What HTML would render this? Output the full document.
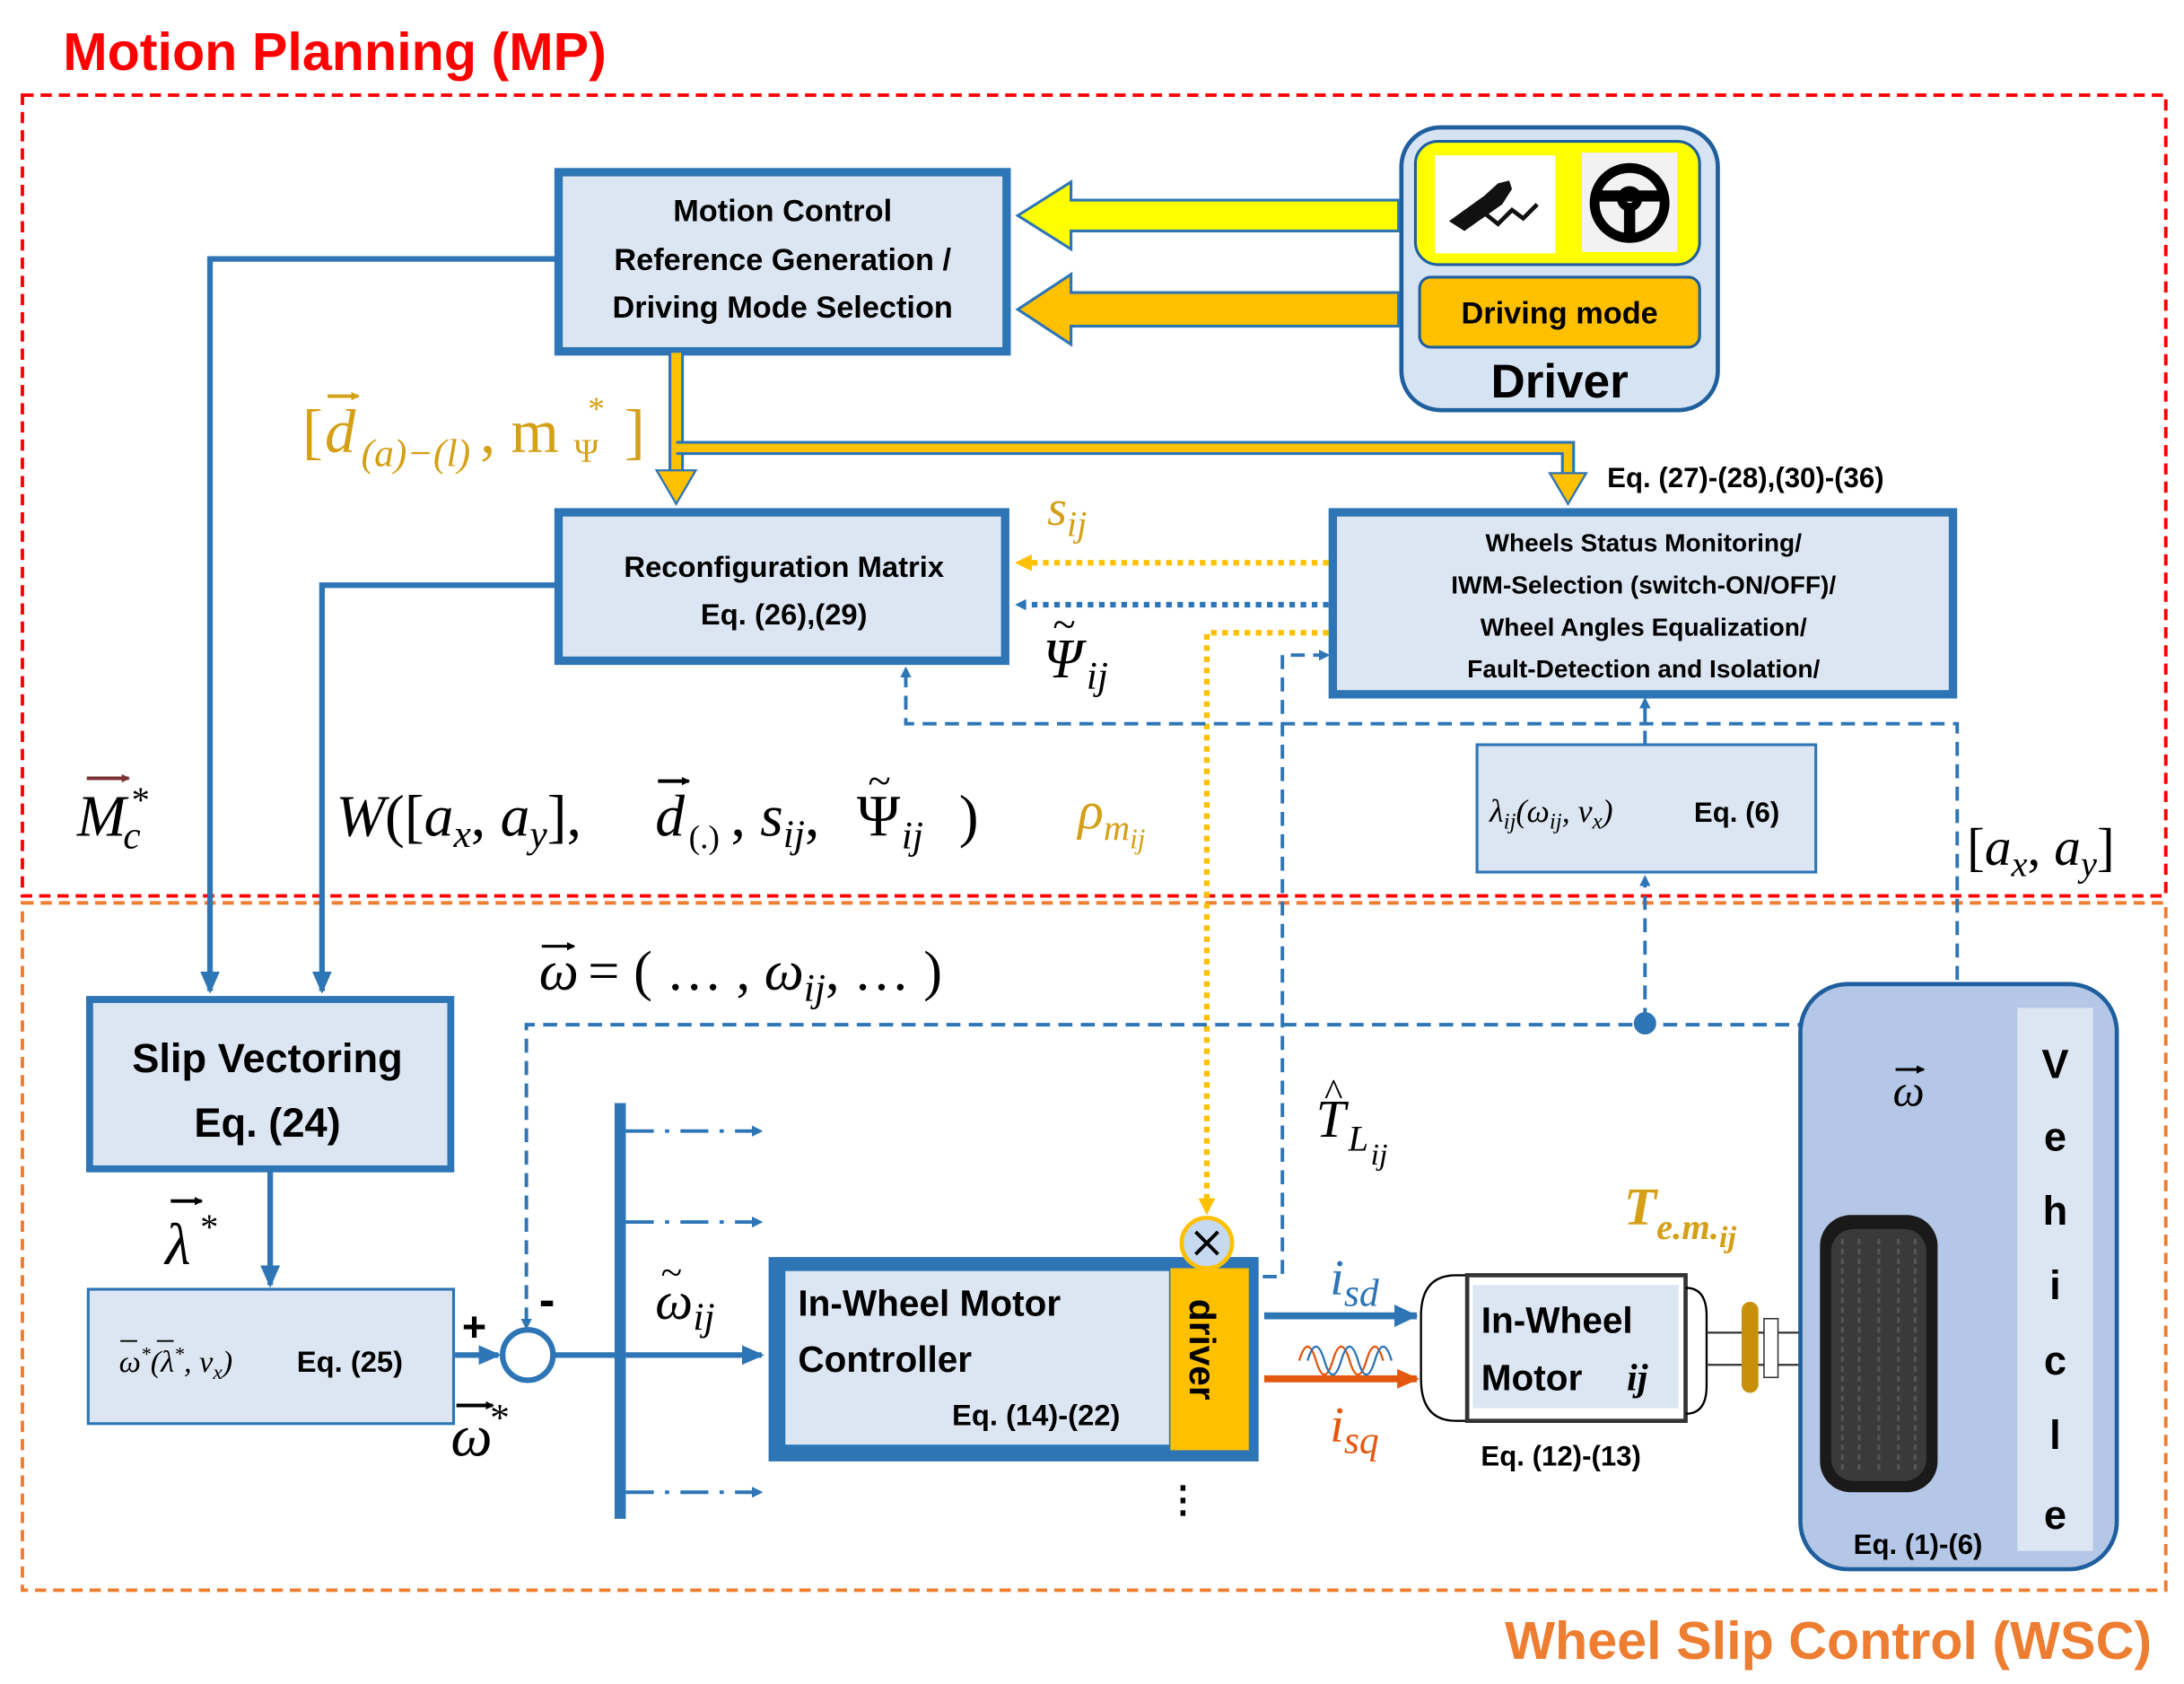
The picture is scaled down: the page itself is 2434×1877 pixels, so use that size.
<!DOCTYPE html>
<html><head><meta charset="utf-8"><style>
html,body{margin:0;padding:0;background:#fff;}
svg{display:block;}
.b{font-family:"Liberation Sans",sans-serif;font-weight:bold;}
.m{font-family:"Liberation Serif",serif;font-style:italic;}
.r{font-family:"Liberation Serif",serif;}
</style></head><body>
<svg width="2434" height="1877" viewBox="0 0 1560 1203" xmlns="http://www.w3.org/2000/svg">
<defs>
<marker id="ab" markerWidth="8" markerHeight="8" refX="6" refY="4" orient="auto" markerUnits="userSpaceOnUse"><path d="M0,0 L8,4 L0,8 z" fill="#2e75b6"/></marker>
<marker id="abl" markerWidth="16" markerHeight="14" refX="14" refY="7" orient="auto" markerUnits="userSpaceOnUse"><path d="M0,0 L16,7 L0,14 z" fill="#2e75b6"/></marker>
<marker id="ay" markerWidth="12" markerHeight="12" refX="10" refY="6" orient="auto" markerUnits="userSpaceOnUse"><path d="M0,0 L12,6 L0,12 z" fill="#ffc000"/></marker>
<marker id="aor" markerWidth="16" markerHeight="14" refX="14" refY="7" orient="auto" markerUnits="userSpaceOnUse"><path d="M0,0 L16,7 L0,14 z" fill="#e3570f"/></marker>
<marker id="va" markerWidth="6" markerHeight="6" refX="5" refY="3" orient="auto" markerUnits="userSpaceOnUse"><path d="M0,0 L6,3 L0,6 z" fill="context-stroke"/></marker>
</defs>

<text x="45" y="50" class="b" font-size="38" fill="#ff0000">Motion Planning (MP)</text>
<rect x="16" y="68" width="1531" height="572" fill="none" stroke="#ff0000" stroke-width="2.5" stroke-dasharray="8,5"/>
<rect x="16" y="645" width="1531" height="491" fill="none" stroke="#ed7d31" stroke-width="2.5" stroke-dasharray="8,5"/>
<text x="1537" y="1185" class="b" font-size="38" fill="#ed7d31" text-anchor="end">Wheel Slip Control (WSC)</text>

<!-- Motion control box -->
<rect x="399" y="123" width="320" height="128" fill="#dce6f2" stroke="#2e75b6" stroke-width="6"/>
<g class="b" font-size="22" text-anchor="middle" fill="#000">
<text x="559" y="158">Motion Control</text>
<text x="559" y="193">Reference Generation /</text>
<text x="559" y="227">Driving Mode Selection</text>
</g>

<!-- Driver -->
<rect x="1001" y="91" width="226" height="202" rx="28" fill="#d6e3f3" stroke="#1f5f9e" stroke-width="3"/>
<rect x="1011" y="101" width="203" height="88" rx="16" fill="#ffff00" stroke="#1f5f9e" stroke-width="2"/>
<rect x="1025" y="111" width="86" height="70" fill="#fff"/>
<rect x="1130" y="109" width="68" height="71" fill="#f2f2f2"/>
<path d="M1035,158 L1060,140 L1070,131 L1078,129 L1080,135 L1073,146 L1046,165 Z" fill="#111"/>
<path d="M1060,152 L1070,160 L1080,150 L1088,156 L1098,146" fill="none" stroke="#111" stroke-width="3"/>
<circle cx="1164" cy="145" r="25" fill="none" stroke="#000" stroke-width="7"/>
<circle cx="1164" cy="142" r="6" fill="none" stroke="#000" stroke-width="6"/>
<path d="M1141,140 L1187,140 M1164,148 L1164,168" stroke="#000" stroke-width="8"/>
<rect x="1014" y="198" width="200" height="50" rx="8" fill="#ffc000" stroke="#1f5f9e" stroke-width="2"/>
<text x="1114" y="231" class="b" font-size="22" text-anchor="middle">Driving mode</text>
<text x="1114" y="284" class="b" font-size="34" text-anchor="middle">Driver</text>

<!-- big arrows -->
<path d="M999,143 L765,143 L765,130 L727,154 L765,178 L765,165 L999,165 Z" fill="#ffff00" stroke="#2e75b6" stroke-width="2"/>
<path d="M999,209 L765,209 L765,196 L727,221 L765,246 L765,233 L999,233 Z" fill="#ffc000" stroke="#2e75b6" stroke-width="2"/>

<!-- orange thick connectors -->
<path d="M483,252 L483,338" stroke="#2e75b6" stroke-width="11" fill="none"/>
<path d="M483,252 L483,338" stroke="#ffc000" stroke-width="7" fill="none"/>
<path d="M483,320 L1120,320 L1120,340" stroke="#2e75b6" stroke-width="10" fill="none"/>
<path d="M483,320 L1120,320 L1120,340" stroke="#ffc000" stroke-width="6" fill="none"/>
<path d="M469,336 L497,336 L483,360 Z" fill="#ffc000" stroke="#2e75b6" stroke-width="1.5"/>
<path d="M1107,338 L1133,338 L1120,360 Z" fill="#ffc000" stroke="#2e75b6" stroke-width="1.5"/>
<g fill="#d4a017">
<text x="216" y="323" class="r" font-size="44">[</text>
<text x="232" y="323" class="m" font-size="44">d</text>
<path d="M234,283 L256,283" stroke="#d4a017" stroke-width="2.5" marker-end="url(#va)"/>
<text x="258" y="333" class="m" font-size="28">(a)−(l)</text>
<text x="343" y="323" class="r" font-size="44">, m</text>
<text x="410" y="330" class="r" font-size="24">Ψ</text>
<text x="420" y="300" class="r" font-size="24">*</text>
<text x="446" y="323" class="r" font-size="44">]</text>
</g>

<!-- Reconfiguration -->
<rect x="399" y="366" width="319" height="106" fill="#dce6f2" stroke="#2e75b6" stroke-width="6"/>
<text x="560" y="412" class="b" font-size="21" text-anchor="middle">Reconfiguration Matrix</text>
<text x="560" y="446" class="b" font-size="21" text-anchor="middle">Eq. (26),(29)</text>

<!-- Wheels status -->
<rect x="952" y="366" width="443" height="130" fill="#dce6f2" stroke="#2e75b6" stroke-width="6"/>
<g class="b" font-size="18" text-anchor="middle">
<text x="1174" y="394">Wheels Status Monitoring/</text>
<text x="1174" y="424">IWM-Selection (switch-ON/OFF)/</text>
<text x="1174" y="454">Wheel Angles Equalization/</text>
<text x="1174" y="484">Fault-Detection and Isolation/</text>
</g>
<text x="1148" y="348" class="b" font-size="20">Eq. (27)-(28),(30)-(36)</text>

<!-- dotted arrows -->
<path d="M949,402 L727,402" stroke="#ffc000" stroke-width="4" stroke-dasharray="4,4" fill="none" marker-end="url(#ay)"/>
<path d="M949,432 L727,432" stroke="#2e75b6" stroke-width="4" stroke-dasharray="4,4" fill="none" marker-end="url(#ab)"/>
<path d="M949,452 L862,452 L862,866" stroke="#ffc000" stroke-width="4" stroke-dasharray="4,4" fill="none" marker-end="url(#ay)"/>
<text x="748" y="375" class="m" font-size="36" fill="#d4a017">s<tspan font-size="26" dy="8">ij</tspan></text>
<text x="745" y="484" class="m" font-size="40" fill="#000">Ψ</text>
<text x="752" y="456" class="r" font-size="30">~</text>
<text x="776" y="492" class="m" font-size="28">ij</text>
<text x="770" y="592" class="m" font-size="38" fill="#d4a017">ρ<tspan font-size="26" dy="8">m</tspan><tspan font-size="20" dy="6">ij</tspan></text>

<!-- dashed blue lines -->
<g stroke="#2e75b6" stroke-width="2.5" stroke-dasharray="10,6" fill="none">
<path d="M1398,700 L1398,517 L647,517 L647,478" marker-end="url(#ab)"/>
<path d="M1175,532 L1175,500" marker-end="url(#ab)"/>
<path d="M1175,730 L1175,627" marker-end="url(#ab)"/>
<path d="M1340,830 L1340,732 L376,732 L376,948" marker-end="url(#ab)"/>
<path d="M902,912 L916,912 L916,468 L948,468" marker-end="url(#ab)"/>
</g>
<circle cx="1175" cy="731" r="8" fill="#2e75b6"/>

<!-- lambda box -->
<rect x="1055" y="532" width="242" height="91" fill="#dce6f2" stroke="#2e75b6" stroke-width="2"/>
<text x="1064" y="587" class="m" font-size="23">λ<tspan font-size="16" dy="5">ij</tspan><tspan dy="-5">(ω</tspan><tspan font-size="16" dy="5">ij</tspan><tspan dy="-5">, v</tspan><tspan font-size="16" dy="5">x</tspan><tspan dy="-5">)</tspan></text>
<text x="1210" y="587" class="b" font-size="20">Eq. (6)</text>
<text x="1405" y="618" class="r" font-size="38">[<tspan font-style="italic">a</tspan><tspan font-size="26" font-style="italic" dy="8">x</tspan><tspan dy="-8">, </tspan><tspan font-style="italic">a</tspan><tspan font-size="26" font-style="italic" dy="8">y</tspan><tspan dy="-8">]</tspan></text>

<!-- solid blue to slip vectoring -->
<path d="M399,185 L150,185 L150,708" stroke="#2e75b6" stroke-width="4" fill="none" marker-end="url(#abl)"/>
<path d="M399,418 L230,418 L230,708" stroke="#2e75b6" stroke-width="4" fill="none" marker-end="url(#abl)"/>
<text x="55" y="597" class="m" font-size="42">M</text>
<path d="M62,556 L92,556" stroke="#7a3030" stroke-width="2.5" marker-end="url(#va)"/>
<text x="88" y="606" class="m" font-size="28">c</text>
<text x="94" y="580" class="r" font-size="26">*</text>

<g>
<text x="240" y="597" class="r" font-size="42"><tspan font-style="italic">W</tspan>([<tspan font-style="italic">a</tspan><tspan font-size="28" font-style="italic" dy="8">x</tspan><tspan dy="-8">, </tspan><tspan font-style="italic">a</tspan><tspan font-size="28" font-style="italic" dy="8">y</tspan><tspan dy="-8">],</tspan></text>
<text x="468" y="597" class="m" font-size="42">d</text>
<path d="M470,558 L492,558" stroke="#000" stroke-width="2.5" marker-end="url(#va)"/>
<text x="492" y="606" class="r" font-size="24">(.)</text>
<text x="522" y="597" class="r" font-size="42">, <tspan font-style="italic">s</tspan><tspan font-size="28" font-style="italic" dy="8">ij</tspan><tspan dy="-8">,</tspan></text>
<text x="612" y="597" class="r" font-size="42">Ψ</text>
<text x="620" y="568" class="r" font-size="30">~</text>
<text x="644" y="606" class="m" font-size="28">ij</text>
<text x="685" y="597" class="r" font-size="42">)</text>
</g>

<text x="385" y="707" class="m" font-size="40">ω</text>
<path d="M387,676 L410,676" stroke="#000" stroke-width="2" marker-end="url(#va)"/>
<text x="420" y="707" class="r" font-size="40">= ( … , <tspan font-style="italic">ω</tspan><tspan font-size="28" font-style="italic" dy="8">ij</tspan><tspan dy="-8">, … )</tspan></text>

<!-- Slip vectoring -->
<rect x="64" y="714" width="258" height="121" fill="#dce6f2" stroke="#2e75b6" stroke-width="5"/>
<text x="191" y="766" class="b" font-size="29" text-anchor="middle">Slip Vectoring</text>
<text x="191" y="812" class="b" font-size="29" text-anchor="middle">Eq. (24)</text>
<path d="M193,836 L193,918" stroke="#2e75b6" stroke-width="4" fill="none" marker-end="url(#abl)"/>
<text x="118" y="903" class="m" font-size="42">λ</text>
<path d="M122,858 L144,858" stroke="#000" stroke-width="2.5" marker-end="url(#va)"/>
<text x="143" y="885" class="r" font-size="26">*</text>

<rect x="63" y="921" width="261" height="96" fill="#dce6f2" stroke="#2e75b6" stroke-width="2"/>
<text x="85" y="980" class="m" font-size="22">ω<tspan font-size="14" dy="-8">*</tspan><tspan dy="8">(λ</tspan><tspan font-size="14" dy="-8">*</tspan><tspan dy="8">, v</tspan><tspan font-size="15" dy="5">x</tspan><tspan dy="-5">)</tspan></text>
<path d="M86,958 L98,958 M112,958 L124,958" stroke="#000" stroke-width="1.2"/>
<text x="212" y="980" class="b" font-size="21">Eq. (25)</text>

<!-- sum -->
<path d="M325,968 L356,968" stroke="#2e75b6" stroke-width="4" marker-end="url(#abl)"/>
<circle cx="377" cy="968" r="18" fill="#fff" stroke="#2e75b6" stroke-width="4"/>
<text x="330" y="958" class="b" font-size="30">+</text>
<text x="385" y="940" class="b" font-size="34">-</text>
<text x="322" y="1040" class="m" font-size="42">ω</text>
<path d="M326,1004 L352,1004" stroke="#000" stroke-width="2.5" marker-end="url(#va)"/>
<text x="350" y="1022" class="r" font-size="28">*</text>
<path d="M395,968 L440,968" stroke="#2e75b6" stroke-width="4"/>
<rect x="439" y="788" width="8" height="297" fill="#2e75b6"/>
<g stroke="#2e75b6" stroke-width="2.5" fill="none" stroke-dasharray="20,8,3,8">
<path d="M447,808 L543,808" marker-end="url(#ab)"/>
<path d="M447,873 L543,873" marker-end="url(#ab)"/>
<path d="M447,1066 L543,1066" marker-end="url(#ab)"/>
</g>
<path d="M447,968 L544,968" stroke="#2e75b6" stroke-width="4" marker-end="url(#abl)"/>
<text x="468" y="942" class="m" font-size="38">ω</text>
<text x="472" y="918" class="r" font-size="28">~</text>
<text x="495" y="950" class="m" font-size="28">ij</text>

<!-- IWM controller -->
<rect x="549" y="898" width="350" height="146" fill="#2e75b6"/>
<rect x="561" y="908" width="274" height="124" fill="#dce6f2"/>
<rect x="836" y="906" width="56" height="130" fill="#ffc000"/>
<text x="570" y="940" class="b" font-size="26">In-Wheel Motor</text>
<text x="570" y="980" class="b" font-size="26">Controller</text>
<text x="680" y="1018" class="b" font-size="21">Eq. (14)-(22)</text>
<text transform="translate(850,928) rotate(90)" class="b" font-size="26">driver</text>
<circle cx="862" cy="888" r="18" fill="#c5d9f1" stroke="#ffc000" stroke-width="3"/>
<path d="M854,880 L870,896 M870,880 L854,896" stroke="#000" stroke-width="2.5"/>
<text x="832" y="1080" class="b" font-size="26">⋮</text>

<!-- currents -->
<path d="M903,940 L1012,940" stroke="#2e75b6" stroke-width="5"/>
<path d="M996,932 L1013,940 L996,948 Z" fill="#2e75b6"/>
<path d="M903,985 L1012,985" stroke="#e3570f" stroke-width="5" marker-end="url(#aor)"/>
<text x="950" y="925" class="m" font-size="36" fill="#2e75b6">i<tspan font-size="28" dy="8">sd</tspan></text>
<text x="950" y="1030" class="m" font-size="36" fill="#e3570f">i<tspan font-size="28" dy="8">sq</tspan></text>
<path d="M928,972 q6,-20 12,0 q6,20 12,0 q6,-20 12,0 q6,20 12,0 q6,-20 12,0" fill="none" stroke="#e3570f" stroke-width="1.5"/>
<path d="M934,972 q6,-20 12,0 q6,20 12,0 q6,-20 12,0 q6,20 12,0 q6,-20 12,0" fill="none" stroke="#2e75b6" stroke-width="1.5"/>

<!-- motor -->
<path d="M1048,911 L1040,911 Q1015,911 1015,940 L1015,985 Q1015,1015 1040,1015 L1048,1015" fill="none" stroke="#000" stroke-width="1.5"/>
<rect x="1048" y="911" width="156" height="104" fill="#fff" stroke="#333" stroke-width="3"/>
<rect x="1052" y="918" width="147" height="88" fill="#dce6f2"/>
<path d="M1204,920 q15,0 15,20 l0,50 q0,20 -15,20" fill="none" stroke="#000" stroke-width="1.5"/>
<text x="1058" y="952" class="b" font-size="26">In-Wheel</text>
<text x="1058" y="993" class="b" font-size="26">Motor</text>
<text x="1162" y="993" class="m" font-size="27" font-weight="bold">ij</text>
<text x="1115" y="1047" class="b" font-size="20" text-anchor="middle">Eq. (12)-(13)</text>
<path d="M1219,952 L1290,952 M1219,975 L1290,975" stroke="#333" stroke-width="1.5"/>
<rect x="1244" y="930" width="12" height="65" rx="6" fill="#c8900a"/>
<rect x="1260" y="942" width="10" height="42" fill="#fff" stroke="#333"/>
<text x="1160" y="875" class="m" font-size="38" font-weight="bold" fill="#d4a017">T<tspan font-size="26" dy="10">e.m.</tspan><tspan font-size="22" dy="6">ij</tspan></text>
<text x="940" y="812" class="m" font-size="38">T</text>
<text x="946" y="790" class="r" font-size="28">^</text>
<text x="963" y="822" class="m" font-size="26">L</text>
<text x="979" y="832" class="m" font-size="22">ij</text>

<!-- vehicle -->
<rect x="1286" y="703" width="226" height="418" rx="34" fill="#b4c7e7" stroke="#1f5f9e" stroke-width="3"/>
<rect x="1441" y="720" width="54" height="388" fill="#dce6f2"/>
<g class="b" font-size="29" text-anchor="middle">
<text x="1468" y="770">V</text><text x="1468" y="822">e</text><text x="1468" y="875">h</text>
<text x="1468" y="928">i</text><text x="1468" y="982">c</text><text x="1468" y="1035">l</text><text x="1468" y="1092">e</text>
</g>
<rect x="1300" y="868" width="84" height="198" rx="22" fill="#1a1a1a"/>
<rect x="1308" y="878" width="68" height="180" rx="16" fill="#3a3a3a"/>
<path d="M1316,885 L1316,1050 M1328,885 L1328,1050 M1342,885 L1342,1050 M1356,885 L1356,1050 M1368,885 L1368,1050" stroke="#555" stroke-width="2" stroke-dasharray="4,3"/>
<text x="1352" y="790" class="m" font-size="32">ω</text>
<path d="M1354,764 L1374,764" stroke="#000" stroke-width="2" marker-end="url(#va)"/>
<text x="1370" y="1110" class="b" font-size="20" text-anchor="middle">Eq. (1)-(6)</text>
</svg>
</body></html>
